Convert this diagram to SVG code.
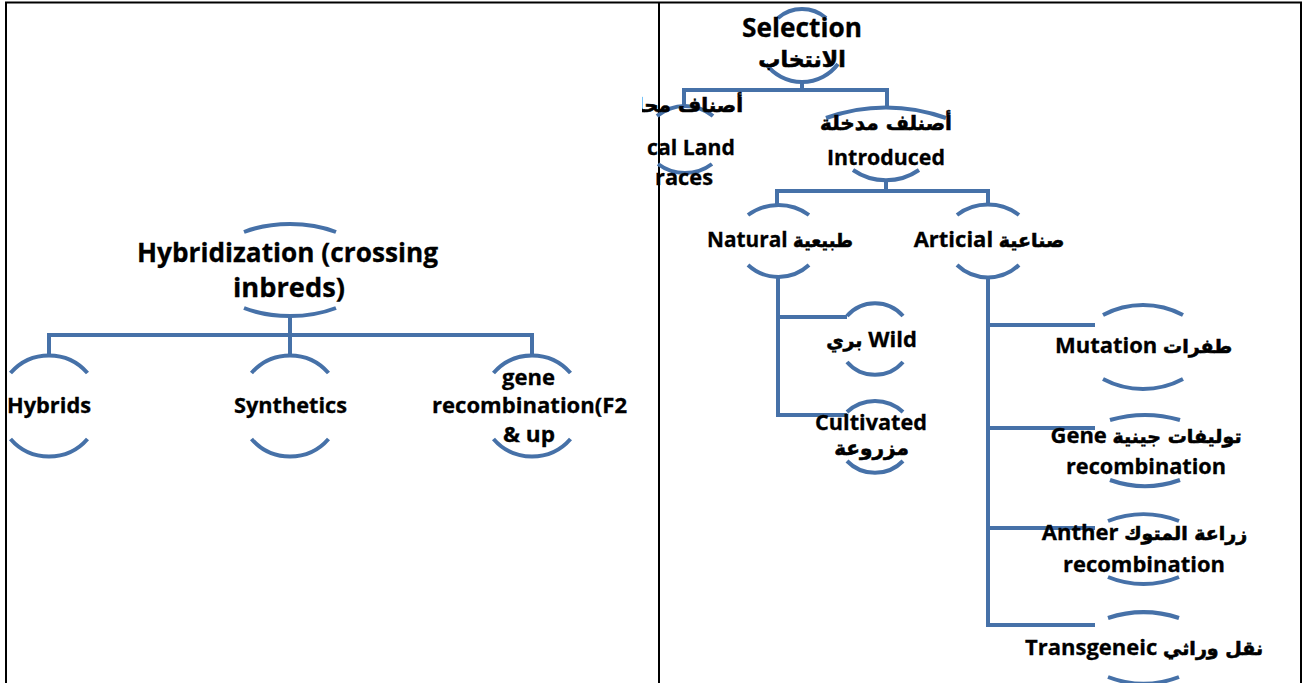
<svg xmlns="http://www.w3.org/2000/svg" width="1303" height="683" viewBox="0 0 1303 683">
<defs>
<style>
.bd{stroke:#000;stroke-width:2;fill:none}
.ln{stroke:#4671a8;stroke-width:4;fill:none}
.arc{stroke:#4671a8;stroke-width:4;fill:none}
text{font-family:"Open Sans","DejaVu Sans",sans-serif;font-weight:700;fill:#000;stroke:#000;stroke-width:0.3px;text-anchor:middle}
.big{font-size:27px}
.md{font-size:22px}
.a{font-family:"DejaVu Sans",sans-serif;font-size:19px;stroke-width:0.6px}
.ar{font-family:"DejaVu Sans",sans-serif;font-size:20px;stroke-width:0.6px}
.arb{font-family:"DejaVu Sans",sans-serif;font-size:22px;stroke-width:0.6px}
.end{text-anchor:end}
</style>
<clipPath id="clipLocal"><path d="M642 80 H790 V200 H656 V166 H647 V122 H642 Z"/></clipPath>
</defs>
<rect width="1303" height="683" fill="#fff"/>
<g id="borders" class="bd"><path d="M5 2.5 H1302 M6 2 V683 M659 2 V683 M1301 2 V683"/></g>
<g id="connectors" class="ln">
<path d="M49 355 V335 H532 V355 M290 317 V355"/>
<path d="M802 82 V90 M684 106 V90 H887 V107"/>
<path d="M886 180 V191 M777 205 V191 H988 V205"/>
<path d="M778 277 V415 H847 M778 317 H847"/>
<path d="M988 277 V625 H1095 M988 325 H1095 M988 428 H1095 M988 528 H1095"/>
</g>
<g id="node-hybridization">
<path class="arc" d="M244 232 A82 46.5 0 0 1 336 232 M244 308 A82 46.5 0 0 0 336 308"/>
<text class="big" x="287.5" y="262" textLength="301" lengthAdjust="spacingAndGlyphs">Hybridization (crossing</text>
<text class="big" x="289" y="297" textLength="112" lengthAdjust="spacingAndGlyphs">inbreds)</text>
</g>
<g id="node-hybrids">
<path class="arc" d="M10.5 373 A51 51 0 0 1 87.5 373 M10.5 439 A51 51 0 0 0 87.5 439"/>
<text class="md" x="49" y="413" textLength="84" lengthAdjust="spacingAndGlyphs">Hybrids</text>
</g>
<g id="node-synthetics">
<path class="arc" d="M251.5 373 A51 51 0 0 1 328.5 373 M251.5 439 A51 51 0 0 0 328.5 439"/>
<text class="md" x="290.5" y="413" textLength="113" lengthAdjust="spacingAndGlyphs">Synthetics</text>
</g>
<g id="node-gene-recombination">
<path class="arc" d="M493.5 373 A51 51 0 0 1 570.5 373 M493.5 439 A51 51 0 0 0 570.5 439"/>
<text class="md" x="528.5" y="385" textLength="53" lengthAdjust="spacingAndGlyphs">gene</text>
<text class="md" x="529.5" y="413" textLength="195" lengthAdjust="spacingAndGlyphs">recombination(F2</text>
<text class="md" x="529" y="442" textLength="52" lengthAdjust="spacingAndGlyphs">&amp; up</text>
</g>
<g id="node-selection">
<path class="arc" d="M778 18 A36.5 36.5 0 0 1 826 18 M766 64 A45 45 0 0 0 838 64"/>
<text class="big" x="802" y="37" textLength="120" lengthAdjust="spacingAndGlyphs">Selection</text>
<text class="arb" x="802" y="67">الانتخاب</text>
</g>
<g id="node-local" clip-path="url(#clipLocal)">
<path class="arc" d="M657 116 A44 44 0 0 1 713 116 M658 164 A45 45 0 0 0 712 164"/>
<text class="ar end" x="743" y="112">أصناف محلية</text>
<text class="md end" x="735" y="155" textLength="113" lengthAdjust="spacingAndGlyphs">Local Land</text>
<text class="md end" x="713" y="185" textLength="58" lengthAdjust="spacingAndGlyphs">races</text>
</g>
<g id="node-introduced">
<path class="arc" d="M826 118 A175 175 0 0 1 946 118 M853 170 A58 58 0 0 0 919 170"/>
<text class="ar" x="886" y="130">أصنلف مدخلة</text>
<text class="md" x="886" y="165" textLength="118" lengthAdjust="spacingAndGlyphs">Introduced</text>
</g>
<g id="node-natural">
<path class="arc" d="M748 215 A51.5 51.5 0 0 1 809 215 M748 265 A45 45 0 0 0 809 265"/>
<text class="md" x="780" y="247" textLength="146" lengthAdjust="spacingAndGlyphs">Natural <tspan class="a">طبيعية</tspan></text>
</g>
<g id="node-articial">
<path class="arc" d="M957 215 A51.5 51.5 0 0 1 1019 215 M957 265 A45 45 0 0 0 1019 265"/>
<text class="md" x="989" y="247">Articial <tspan class="a">صناعية</tspan></text>
</g>
<g id="node-wild">
<path class="arc" d="M847 316 A37 37 0 0 1 903 316 M847 362 A37 37 0 0 0 903 362"/>
<text class="md" x="871.5" y="347"><tspan class="a">بري</tspan> Wild</text>
</g>
<g id="node-cultivated">
<path class="arc" d="M847 412 A41 41 0 0 1 903 412 M847 461 A39 39 0 0 0 903 461"/>
<text class="md" x="871" y="430" textLength="112" lengthAdjust="spacingAndGlyphs">Cultivated</text>
<text class="ar" x="871.5" y="455">مزروعة</text>
</g>
<g id="node-mutation">
<path class="arc" d="M1103 315 A85 85 0 0 1 1183 315 M1103 379 A85 85 0 0 0 1183 379"/>
<text class="md" x="1143.5" y="353">Mutation <tspan class="a">طفرات</tspan></text>
</g>
<g id="node-gene">
<path class="arc" d="M1110 420 A125 125 0 0 1 1180 420 M1110 480 A105 105 0 0 0 1180 480"/>
<text class="md" x="1146" y="443">Gene <tspan class="a">توليفات جينية</tspan></text>
<text class="md" x="1146" y="474" textLength="160" lengthAdjust="spacingAndGlyphs">recombination</text>
</g>
<g id="node-anther">
<path class="arc" d="M1108 521 A97 97 0 0 1 1179 521 M1108 577 A93 93 0 0 0 1179 577"/>
<text class="md" x="1144.5" y="540">Anther  <tspan class="a">زراعة المتوك</tspan></text>
<text class="md" x="1144" y="572" textLength="162" lengthAdjust="spacingAndGlyphs">recombination</text>
</g>
<g id="node-transgeneic">
<path class="arc" d="M1108 618 A113 113 0 0 1 1179 618 M1108 677 A100 100 0 0 0 1179 677"/>
<text class="md" x="1144" y="655">Transgeneic  <tspan class="a">نقل وراثي</tspan></text>
</g>
</svg>
